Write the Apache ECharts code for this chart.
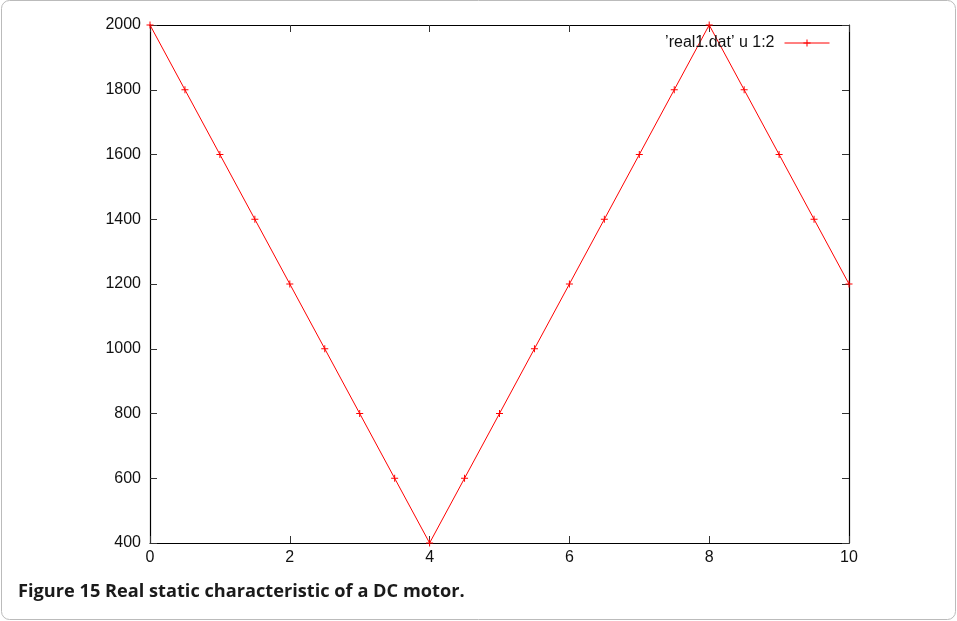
<!DOCTYPE html>
<html>
<head>
<meta charset="utf-8">
<script src="https://cdn.jsdelivr.net/npm/echarts@6/dist/echarts.min.js"></script>
<style>
  html, body { margin: 0; padding: 0; background: #fff; }
  #chart { width: 957px; height: 621px; }
</style>
</head>
<body>
<div id="chart"></div>
<script>
// Motor speed measured against input (real1.dat, columns 1:2)
const xValues = [0, 0.5, 1, 1.5, 2, 2.5, 3, 3.5, 4, 4.5, 5, 5.5, 6, 6.5, 7, 7.5, 8, 8.5, 9, 9.5, 10];
const yValues = [2000, 1800, 1600, 1400, 1200, 1000, 800, 600, 400, 600, 800, 1000, 1200, 1400, 1600, 1800, 2000, 1800, 1600, 1400, 1200];
const seriesName = '\u2019real1.dat\u2019 u 1:2';
const captionText = 'Figure 15 Real static characteristic of a DC motor.';

const points = xValues.map((x, i) => [x, yValues[i]]);
const plusSymbol = 'path://M3,0H4V3H7V4H4V7H3V4H0V3H3Z';
const labelFont = { fontFamily: 'Liberation Sans', fontSize: 16, color: '#111' };
const plainNumber = v => String(v);

const axisLine = { show: true, onZero: false, lineStyle: { color: '#000', width: 1.2 } };
const tick = { show: true, inside: true, length: 7, lineStyle: { color: '#333', width: 1 } };

const chart = echarts.init(document.getElementById('chart'), null, { renderer: 'canvas' });
chart.setOption({
  animation: false,
  backgroundColor: '#fff',
  grid: { left: 150, right: 108, top: 25, bottom: 78, containLabel: false },
  legend: {
    right: 122, top: 30, align: 'right',
    itemWidth: 45, itemHeight: 9, itemGap: 10,
    lineStyle: { width: 1, color: '#ff0000' },
    textStyle: Object.assign({ padding: [0, 5, 0, 0] }, labelFont),
    data: [{ name: seriesName }]
  },
  xAxis: [
    { type: 'value', min: 0, max: 10, interval: 2, position: 'bottom',
      axisLine, axisTick: tick, splitLine: { show: false },
      axisLabel: Object.assign({ margin: 7, formatter: plainNumber }, labelFont) },
    { type: 'value', min: 0, max: 10, interval: 2, position: 'top',
      axisLine, axisTick: tick, splitLine: { show: false }, axisLabel: { show: false } }
  ],
  yAxis: [
    { type: 'value', min: 400, max: 2000, interval: 200, position: 'left',
      axisLine, axisTick: tick, splitLine: { show: false },
      axisLabel: Object.assign({ margin: 9, formatter: plainNumber }, labelFont) },
    { type: 'value', min: 400, max: 2000, interval: 200, position: 'right',
      axisLine, axisTick: tick, splitLine: { show: false }, axisLabel: { show: false } }
  ],
  series: [{
    name: seriesName,
    type: 'line',
    data: points,
    symbol: plusSymbol,
    symbolSize: 7,
    showAllSymbol: true,
    lineStyle: { color: '#ff0000', width: 1 },
    itemStyle: { color: '#ff0000' },
    z: 1
  }],
  graphic: [
    { type: 'rect', shape: { x: 1.5, y: 0.5, width: 954, height: 619, r: 8 },
      style: { fill: 'none', stroke: '#bbb', lineWidth: 1 }, silent: true },
    { type: 'text', left: 18, top: 583,
      style: { text: captionText, font: 'bold 18.2px "Open Sans"', fill: '#1a1a1a' } }
  ]
});
</script>
</body>
</html>
